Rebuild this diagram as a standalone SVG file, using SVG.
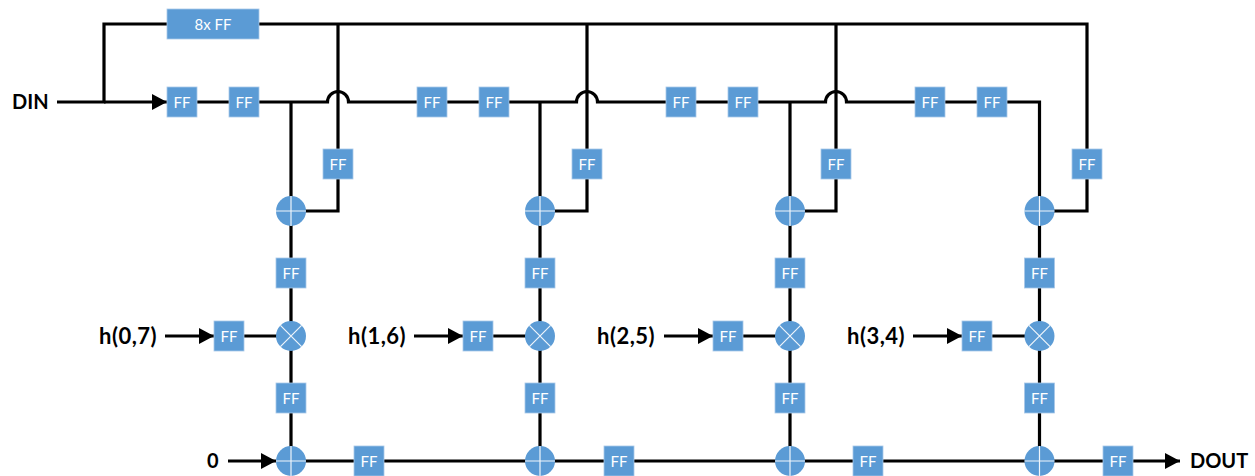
<svg xmlns="http://www.w3.org/2000/svg" width="1255" height="476" viewBox="0 0 1255 476">
<style>
.w{fill:none;stroke:#000;stroke-width:3.2;stroke-linejoin:miter}
.b{fill:#5b9bd5;stroke:#a9c8e8;stroke-width:.8}
.c{fill:#5b9bd5}
.s{stroke:#fff;stroke-width:1.2;fill:none;opacity:.9}
.f{font-family:Lato,"Open Sans","Liberation Sans",sans-serif;font-size:15px;fill:#fff;text-anchor:middle}
.l{font-family:Lato,"Open Sans","Liberation Sans",sans-serif;font-size:20px;font-weight:700;fill:#000}
.h{font-size:22px;letter-spacing:.5px}
</style>
<defs>
<marker id="a" markerUnits="userSpaceOnUse" markerWidth="16" markerHeight="16" refX="15" refY="8" orient="auto"><path d="M0 0L15 8L0 16Z" fill="#000"/></marker>
<g id="add"><circle class="c" r="15"/><path class="s" d="M-15 0H15M0-15V15"/></g>
<g id="mul"><circle class="c" r="15"/><path class="s" d="M-10.600-10.600L10.600 10.600M-10.600 10.600L10.600-10.600"/></g>
<g id="ff"><rect class="b" x="-15" y="-15" width="30" height="30"/><text class="f" y="5.500">FF</text></g>
</defs>
<g id="connectors">
<path class="w" d="M57 102H104V24H167M259 24H1087V211H1040"/>
<path class="w" marker-end="url(#a)" d="M104 102H167"/>
<path class="w" d="M197 102H229M259 102H327.500A10.500 10.500 0 0 1 348.500 102H576.500A10.500 10.500 0 0 1 597.500 102H825.500A10.500 10.500 0 0 1 846.500 102H915M945 102H977M1007 102H1039.500V461"/>
<path class="w" d="M291 102V461M540 102V461M790 102V461"/>
<path class="w" d="M338 24V211H291M587 24V211H540M836 24V211H790"/>
<path class="w" d="M244 336H291M493 336H540M743 336H790M992 336H1039"/>
<path class="w" marker-end="url(#a)" d="M165 336H214"/>
<path class="w" marker-end="url(#a)" d="M414 336H463"/>
<path class="w" marker-end="url(#a)" d="M664 336H713"/>
<path class="w" marker-end="url(#a)" d="M913 336H962"/>
<path class="w" marker-end="url(#a)" d="M228 461H276"/>
<path class="w" d="M291 461H1103"/>
<path class="w" marker-end="url(#a)" d="M1133 461H1180"/>
</g>
<g id="din"><text class="l" x="12" y="109">DIN</text></g>
<g id="dout"><text class="l" x="1190" y="468">DOUT</text></g>
<g id="zero"><text class="l" x="207" y="468">0</text></g>
<g id="h07"><text class="l h" x="99" y="344">h(0,7)</text></g>
<g id="h16"><text class="l h" x="348" y="344">h(1,6)</text></g>
<g id="h25"><text class="l h" x="597" y="344">h(2,5)</text></g>
<g id="h34"><text class="l h" x="847" y="344">h(3,4)</text></g>
<g id="ff8x"><rect class="b" x="167" y="9" width="92" height="30"/><text class="f" x="213" y="29.500">8x FF</text></g>
<g id="t1"><use href="#ff" x="182" y="102"/></g>
<g id="t2"><use href="#ff" x="244" y="102"/></g>
<g id="t3"><use href="#ff" x="432" y="102"/></g>
<g id="t4"><use href="#ff" x="494" y="102"/></g>
<g id="t5"><use href="#ff" x="681" y="102"/></g>
<g id="t6"><use href="#ff" x="743" y="102"/></g>
<g id="t7"><use href="#ff" x="930" y="102"/></g>
<g id="t8"><use href="#ff" x="992" y="102"/></g>
<g id="r0"><use href="#ff" x="338" y="164"/></g>
<g id="r1"><use href="#ff" x="587" y="164"/></g>
<g id="r2"><use href="#ff" x="836" y="164"/></g>
<g id="r3"><use href="#ff" x="1087" y="164"/></g>
<g id="a0"><use href="#add" x="291" y="211"/></g>
<g id="a1"><use href="#add" x="540" y="211"/></g>
<g id="a2"><use href="#add" x="790" y="211"/></g>
<g id="a3"><use href="#add" x="1039.500" y="211"/></g>
<g id="u0"><use href="#ff" x="291" y="273"/></g>
<g id="u1"><use href="#ff" x="540" y="273"/></g>
<g id="u2"><use href="#ff" x="790" y="273"/></g>
<g id="u3"><use href="#ff" x="1039.500" y="273"/></g>
<g id="m0"><use href="#mul" x="291" y="336"/></g>
<g id="m1"><use href="#mul" x="540" y="336"/></g>
<g id="m2"><use href="#mul" x="790" y="336"/></g>
<g id="m3"><use href="#mul" x="1039.500" y="336"/></g>
<g id="h0"><use href="#ff" x="229" y="336"/></g>
<g id="h1"><use href="#ff" x="478" y="336"/></g>
<g id="h2"><use href="#ff" x="728" y="336"/></g>
<g id="h3"><use href="#ff" x="977" y="336"/></g>
<g id="d0"><use href="#ff" x="291" y="398"/></g>
<g id="d1"><use href="#ff" x="540" y="398"/></g>
<g id="d2"><use href="#ff" x="790" y="398"/></g>
<g id="d3"><use href="#ff" x="1039.500" y="398"/></g>
<g id="s0"><use href="#add" x="291" y="461"/></g>
<g id="s1"><use href="#add" x="540" y="461"/></g>
<g id="s2"><use href="#add" x="790" y="461"/></g>
<g id="s3"><use href="#add" x="1039.500" y="461"/></g>
<g id="b0"><use href="#ff" x="369" y="461"/></g>
<g id="b1"><use href="#ff" x="619" y="461"/></g>
<g id="b2"><use href="#ff" x="868" y="461"/></g>
<g id="b3"><use href="#ff" x="1118" y="461"/></g>
</svg>
